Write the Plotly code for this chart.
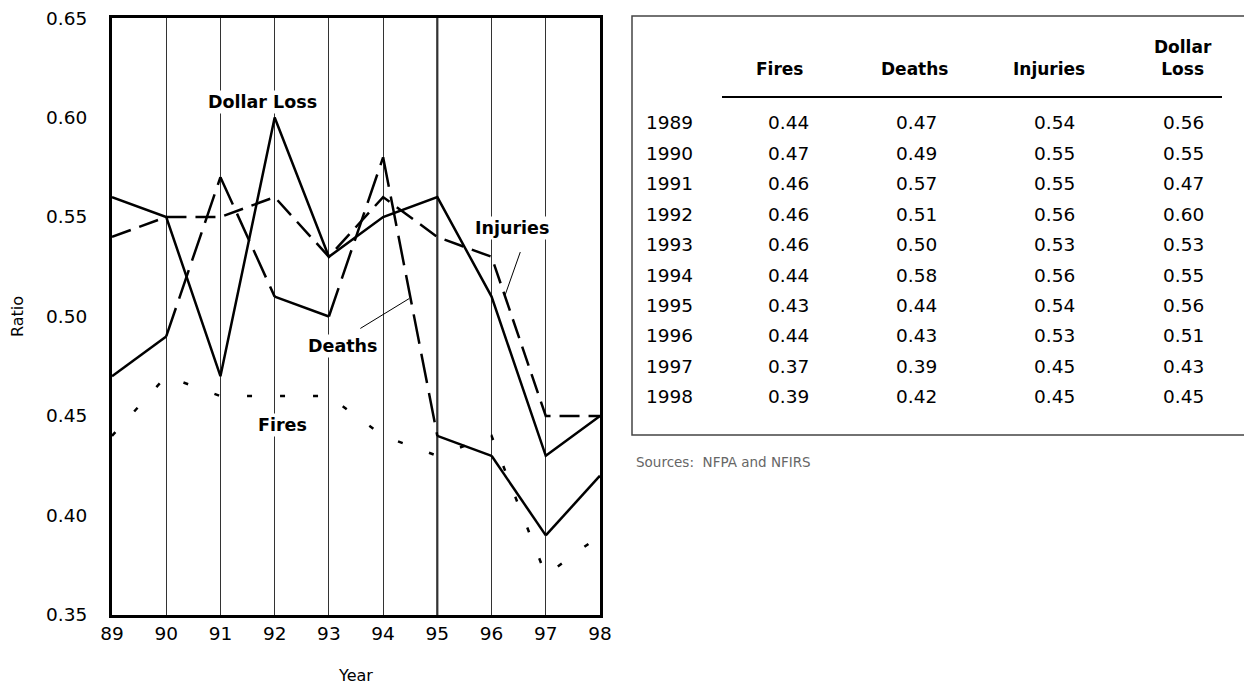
import plotly.graph_objects as go

years = [89, 90, 91, 92, 93, 94, 95, 96, 97, 98]
year_labels = ['1989', '1990', '1991', '1992', '1993', '1994', '1995', '1996', '1997', '1998']
fires = [0.44, 0.47, 0.46, 0.46, 0.46, 0.44, 0.43, 0.44, 0.37, 0.39]
deaths = [0.47, 0.49, 0.57, 0.51, 0.50, 0.58, 0.44, 0.43, 0.39, 0.42]
injuries = [0.54, 0.55, 0.55, 0.56, 0.53, 0.56, 0.54, 0.53, 0.45, 0.45]
dollar_loss = [0.56, 0.55, 0.47, 0.60, 0.53, 0.55, 0.56, 0.51, 0.43, 0.45]
y_ticks = [0.35, 0.40, 0.45, 0.50, 0.55, 0.60, 0.65]

FONT = 'DejaVu Sans'
OFF = 8                      # page body margin
W, H = 1252 - OFF, 685 - OFF
L, R, T, B = 112, 600, 18, 615  # plot area in screen pixels

LONG = '30px,10px'
# the original draws the deaths line partly solid, partly long-dashed
deaths_dash = ['solid', LONG, LONG, 'solid', LONG, LONG, 'solid', 'solid', 'solid']


def px(x):
    return (x - L) / (R - L)


def py(y):
    return (B - y) / (B - T)


fig = go.Figure()


def add_line(xs, ys, dash):
    fig.add_trace(go.Scatter(x=xs, y=ys, mode='lines',
                             line=dict(color='black', width=2.5, dash=dash),
                             showlegend=False, hoverinfo='skip'))


add_line(years, fires, '5px,28px')
for i, d in enumerate(deaths_dash):
    add_line(years[i:i + 2], deaths[i:i + 2], d)
add_line(years, injuries, '20px,9px')
add_line(years, dollar_loss, 'solid')

# the 1995 gridline is drawn heavier in the original
fig.add_vline(x=years[6], line=dict(color='black', width=2), layer='below')

# labels on the chart
labels = [('Dollar Loss', 91.77, 0.608), ('Injuries', 96.38, 0.5445),
          ('Deaths', 93.26, 0.485), ('Fires', 92.14, 0.4455)]
for txt, x, y in labels:
    fig.add_annotation(x=x, y=y, text='<b>%s</b>' % txt, showarrow=False,
                       xanchor='center', yanchor='middle',
                       bgcolor='white', borderpad=1,
                       font=dict(family=FONT, size=17.5, color='black'))

# pointer lines
fig.add_shape(type='line', x0=93.58, y0=0.4940, x1=94.48, y1=0.5090,
              line=dict(color='black', width=1))
fig.add_shape(type='line', x0=96.53, y0=0.5324, x1=96.25, y1=0.5108,
              line=dict(color='black', width=1))

fig.update_xaxes(range=[89, 98], tickvals=years, ticktext=[str(y) for y in years],
                 showgrid=True, gridcolor='#333', gridwidth=1,
                 showline=True, linecolor='black', linewidth=3, mirror=True,
                 ticks='', automargin=False, ticklabeloverflow='allow',
                 tickfont=dict(family=FONT, size=18.5, color='black'),
                 title=dict(text='Year', font=dict(family=FONT, size=16, color='black'), standoff=28),
                 zeroline=False)
fig.update_yaxes(range=[0.35, 0.65001], tickvals=y_ticks, ticktext=['%.2f' % v for v in y_ticks],
                 showgrid=False, showline=True, linecolor='black', linewidth=3, mirror=True,
                 ticks='', automargin=False, ticklabelstandoff=18, ticklabeloverflow='allow',
                 tickfont=dict(family=FONT, size=18.5, color='black'),
                 title=dict(text='Ratio', font=dict(family=FONT, size=16, color='black'), standoff=22),
                 zeroline=False)

# table box and header rule
fig.add_shape(type='rect', xref='paper', yref='paper',
              x0=px(632), x1=px(1247), y0=py(435), y1=py(16),
              line=dict(color='#444', width=1.5))
fig.add_shape(type='line', xref='paper', yref='paper',
              x0=px(722), x1=px(1222), y0=py(97), y1=py(97),
              line=dict(color='black', width=2))

head_x = [779, 914, 1049, 1183]
col_x = [788, 916, 1054, 1183]
headers = ['Fires', 'Deaths', 'Injuries', 'Dollar<br>Loss']
for cx, h in zip(head_x, headers):
    fig.add_annotation(xref='paper', yref='paper', x=px(cx), y=py(81),
                       text='<b>%s</b>' % h, showarrow=False,
                       xanchor='center', yanchor='bottom',
                       font=dict(family=FONT, size=17, color='black'))

columns = [fires, deaths, injuries, dollar_loss]
for i, yl in enumerate(year_labels):
    ry = 123 + i * 30.4
    fig.add_annotation(xref='paper', yref='paper', x=px(644), y=py(ry), text=yl,
                       showarrow=False, xanchor='left', yanchor='middle',
                       font=dict(family=FONT, size=18.5, color='black'))
    for cx, col in zip(col_x, columns):
        fig.add_annotation(xref='paper', yref='paper', x=px(cx), y=py(ry),
                           text='%.2f' % col[i], showarrow=False,
                           xanchor='center', yanchor='middle',
                           font=dict(family=FONT, size=18.5, color='black'))

fig.add_annotation(xref='paper', yref='paper', x=px(634), y=py(462),
                   text='Sources:&nbsp;&nbsp;NFPA and NFIRS', showarrow=False,
                   xanchor='left', yanchor='middle',
                   font=dict(family=FONT, size=13.5, color='#666'))

fig.update_layout(width=W, height=H, plot_bgcolor='white', paper_bgcolor='white',
                  margin=dict(l=L - OFF, r=W - (R - OFF), t=T - OFF, b=H - (B - OFF)),
                  autosize=False)

fig.write_html('out.html')
